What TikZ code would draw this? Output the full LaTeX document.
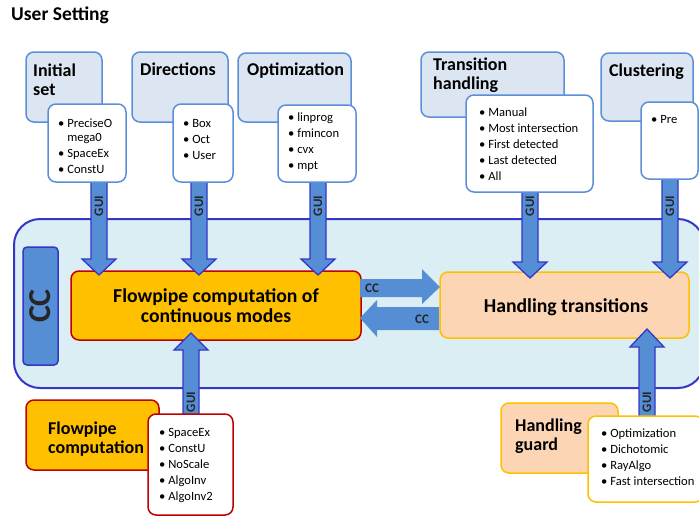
\documentclass[tikz,border=0pt]{standalone}
\usepackage{fontspec}
\setmainfont{Carlito}
\definecolor{tbfill}{HTML}{DCE6F2}
\definecolor{tbline}{HTML}{5B8FD9}
\definecolor{arfill}{HTML}{558ED5}
\definecolor{arline}{HTML}{3535C8}
\definecolor{ccfill}{HTML}{DAEEF3}
\definecolor{gold}{HTML}{FFC000}
\definecolor{dred}{HTML}{C00000}
\definecolor{peach}{HTML}{FCD5B5}
\newcommand{\guiarrow}[5]{%
  \draw[guiarrow] ({#1-8},#2) -- ({#1-8},#4) -- ({#1-17},#4) -- (#1,#3) -- ({#1+17},#4) -- ({#1+8},#4) -- ({#1+8},#2) -- cycle;
  \node[guilabel, rotate=90] at (#1,#5) {GUI};}
\begin{document}
\begin{tikzpicture}[x=1pt,y=-1pt,
  base/.style={inner sep=0pt, outer sep=0pt, line width=1.5pt, rounded corners=8pt},
  titlebox/.style={base, draw=tbline, fill=tbfill, anchor=north west},
  listbox/.style={base, draw=tbline, fill=white, anchor=north west},
  ttl/.style={anchor=base west, inner sep=0pt, align=left, font=\bfseries\fontsize{18}{19}\selectfont},
  lst/.style={anchor=base west, inner sep=0pt, align=left, font=\fontsize{12.6}{16}\selectfont},
  guiarrow/.style={draw=arline, fill=arfill, line width=1.3pt},
  guilabel/.style={inner sep=0pt, font=\bfseries\fontsize{13}{14}\selectfont, text=black!85},
  ccarrow/.style={fill=arfill, draw=none},
  cclabel/.style={inner sep=0pt, anchor=base west, font=\bfseries\fontsize{13}{15}\selectfont, text=black!85},
  mainbox/.style={base, line width=1.5pt, anchor=north west},
  maintext/.style={inner sep=0pt, align=center, font=\bfseries\fontsize{19.7}{20}\selectfont},
]
\useasboundingbox (0,0) rectangle (699,517);

\node[anchor=base west, inner sep=0pt, font=\bfseries\fontsize{19.5}{21}\selectfont] (us) at (11,20) {User Setting};

% container
\draw[draw=arline, fill=ccfill, line width=2pt, rounded corners=26pt] (14,219) rectangle (704,388);

% CC bar
\node[base, draw=arline, fill=arfill, rounded corners=4pt, minimum width=35, minimum height=118, anchor=north west] (ccbar) at (23,247) {};
\node[inner sep=0pt, rotate=90, font=\bfseries\fontsize{32}{34}\selectfont, text=black!85] (cct) at (ccbar.center) {CC};

% main boxes
\node[mainbox, draw=dred, fill=gold, minimum width=290, minimum height=69] (fp) at (71,271) {};
\node[maintext] (fpt) at (216,306) {Flowpipe computation of\\continuous modes};
\node[mainbox, draw=gold, fill=peach, minimum width=249, minimum height=66] (ht) at (440,272) {};
\node[maintext] (htt) at (566,307) {Handling transitions};

% CC arrows
\fill[ccarrow] (360,279) -- (422,279) -- (422,269) -- (440,287) -- (422,304) -- (422,297) -- (360,297) -- cycle;
\node[cclabel] (cc1) at (365,292) {CC};
\fill[ccarrow] (439,307) -- (377,307) -- (377,300) -- (360,318) -- (377,337) -- (377,330) -- (439,330) -- cycle;
\node[cclabel] (cc2) at (415,323) {CC};

% title boxes
\node[titlebox, minimum width=76, minimum height=70] (ib) at (26,52) {};
\node[ttl] (ibt) at (33,95) {Initial\\set};
\node[titlebox, minimum width=96, minimum height=70] (db) at (132,52) {};
\node[ttl] (dbt) at (140,75) {Directions};
\node[titlebox, minimum width=113, minimum height=69] (ob) at (238,53) {};
\node[ttl] (obt) at (247,75) {Optimization};
\node[titlebox, minimum width=143, minimum height=65] (tb) at (421,52) {};
\node[ttl] (tbt) at (433,89) {Transition\\handling};
\node[titlebox, minimum width=92, minimum height=68] (cb) at (601,53) {};
\node[ttl] (cbt) at (609,76) {Clustering};

% GUI arrows
\guiarrow{99}{181}{275}{259}{206}
\guiarrow{199}{181}{275}{259}{206}
\guiarrow{318}{181}{275}{259}{206}
\guiarrow{530}{190}{278}{262}{206}
\guiarrow{670}{178}{278}{262}{206}
\guiarrow{191}{415}{333}{350}{402}
\guiarrow{647}{417}{329}{347}{402}

% list boxes
\node[listbox, minimum width=78, minimum height=78] (il) at (48,104) {};
\node[lst] (ilt) at (58,173) {• PreciseO\\[-2.3pt]\phantom{• }mega0\\• SpaceEx\\• ConstU};
\node[listbox, minimum width=60, minimum height=78] (dl) at (173,104) {};
\node[lst] (dlt) at (183,159) {• Box\\• Oct\\• User};
\node[listbox, minimum width=78, minimum height=77] (ol) at (278,105) {};
\node[lst] (olt) at (288,169) {• linprog\\• fmincon\\• cvx\\• mpt};
\node[listbox, minimum width=127, minimum height=97] (tl) at (466,95) {};
\node[lst] (tlt) at (479,180) {• Manual\\• Most intersection\\• First detected\\• Last detected\\• All};
\node[listbox, minimum width=57, minimum height=77] (cl) at (641,102) {};
\node[lst] (clt) at (651,123) {• Pre};

% bottom boxes
\node[mainbox, draw=dred, fill=gold, minimum width=133, minimum height=70] (fb) at (26,400) {};
\node[ttl] (fbt) at (48,453) {Flowpipe\\computation};
\node[listbox, draw=dred, minimum width=85, minimum height=101] (fl) at (148,414) {};
\node[lst] (flt) at (159,500) {• SpaceEx\\• ConstU\\• NoScale\\• AlgoInv\\• AlgoInv2};

\node[mainbox, draw=gold, fill=peach, minimum width=117, minimum height=70] (gb) at (501,403) {};
\node[ttl] (gbt) at (515,450) {Handling\\guard};
\node[listbox, draw=gold, minimum width=115, minimum height=86] (gl) at (588,416) {};
\node[lst] (glt) at (601,485) {• Optimization\\• Dichotomic\\• RayAlgo\\• Fast intersection};
\end{tikzpicture}
\end{document}
